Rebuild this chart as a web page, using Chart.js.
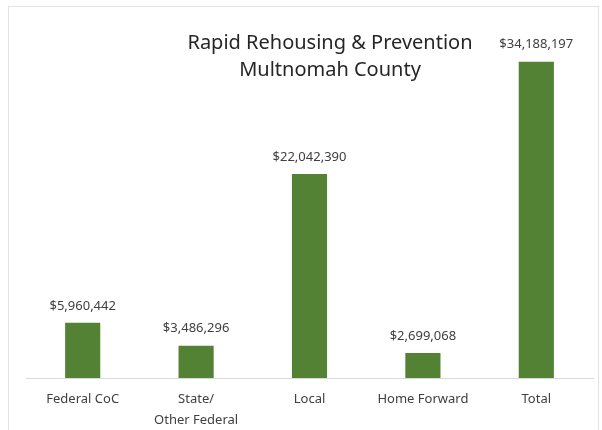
<!DOCTYPE html>
<html>
<head>
<meta charset="utf-8">
<script src="https://cdn.jsdelivr.net/npm/chart.js@4.4.1/dist/chart.umd.min.js"></script>
<style>
    body { margin: 0; background: #fff; }
    #wrap { position: relative; width: 602px; height: 430px; }
    #frame { position: absolute; left: 8px; top: 6px; width: 589px; height: 424px; border: 1px solid #e3e3e3; border-bottom: none; pointer-events: none; }
</style>
</head>
<body>
<div id="wrap">
    <canvas id="fundingChart" width="602" height="430"></canvas>
    <div id="frame"></div>
</div>
<script>
const categories = ['Federal CoC', ['State/', 'Other Federal'], 'Local', 'Home Forward', 'Total'];
const amounts = [5960442, 3486296, 22042390, 2699068, 34188197];
const titleLines = ['Rapid Rehousing & Prevention', 'Multnomah County'];

const fundingChart = document.getElementById('fundingChart');

// values over the bars
const valueLabels = {
    id: 'valueLabels',
    afterDatasetsDraw(chart) {
        const ctx = chart.ctx;
        const meta = chart.getDatasetMeta(0);
        ctx.save();
        ctx.font = '13px "Noto Sans"';
        ctx.fillStyle = '#404040';
        ctx.textAlign = 'center';
        ctx.textBaseline = 'middle';
        meta.data.forEach((bar, i) => {
            ctx.fillText('$' + amounts[i].toLocaleString('en-US'), bar.x, bar.y - 17);
        });
        ctx.restore();
    },
};

// excel-style title sitting over the plot
const overlayTitle = {
    id: 'overlayTitle',
    afterDraw(chart) {
        const ctx = chart.ctx;
        ctx.save();
        ctx.font = '20px "Noto Sans"';
        ctx.fillStyle = '#262626';
        ctx.textAlign = 'center';
        ctx.textBaseline = 'middle';
        titleLines.forEach((line, i) => {
            ctx.fillText(line, 330, 43 + i * 27);
        });
        ctx.restore();
    },
};

new Chart(fundingChart, {
    type: 'bar',
    data: {
        labels: categories,
        datasets: [
            {
                label: 'Funding',
                data: amounts,
                backgroundColor: '#548235',
                borderWidth: 0,
                categoryPercentage: 1,
                barPercentage: 0.31,
            },
        ],
    },
    options: {
        responsive: false,
        animation: false,
        layout: {
            padding: { left: 26, right: 9, top: 45, bottom: 4 },
        },
        plugins: {
            legend: { display: false },
            tooltip: { enabled: false },
        },
        scales: {
            x: {
                grid: { display: false },
                border: { color: '#d9d9d9', width: 1 },
                ticks: {
                    color: '#404040',
                    font: { family: 'Noto Sans', size: 13, lineHeight: 1.6 },
                    maxRotation: 0,
                    minRotation: 0,
                    autoSkip: false,
                    padding: 3,
                },
                afterFit: (scale) => {
                    scale.height = 48;
                },
            },
            y: {
                display: false,
                min: 0,
                max: 36000000,
            },
        },
    },
    plugins: [valueLabels, overlayTitle],
});
</script>
</body>
</html>
